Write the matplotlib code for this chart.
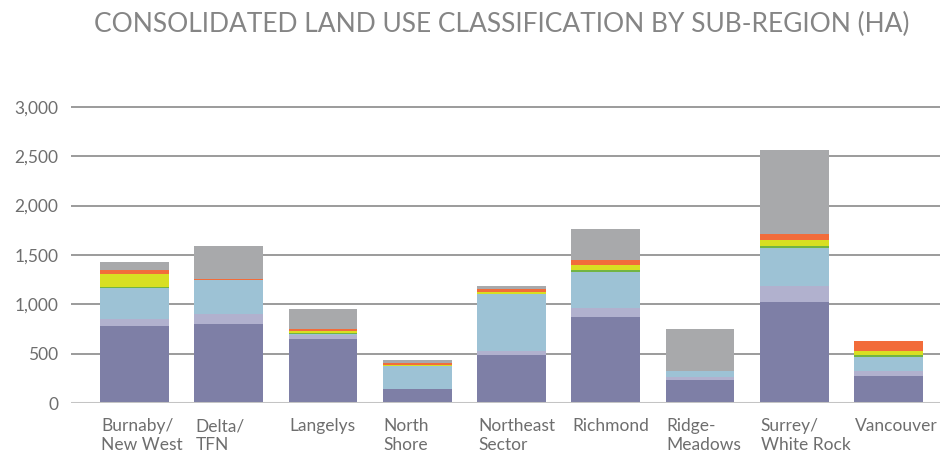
import matplotlib
matplotlib.use("Agg")
import matplotlib.pyplot as plt
import numpy as np

regions = ["Burnaby/\nNew West", "Delta/\nTFN", "Langelys", "North\nShore", "Northeast\nSector",
           "Richmond", "Ridge-\nMeadows", "Surrey/\nWhite Rock", "Vancouver"]
purple = [782, 802, 650, 145, 489, 873, 236, 1024, 277]
lavender = [70, 101, 43, 0, 40, 91, 30, 162, 50]
blue = [314, 342, 10, 233, 579, 364, 61, 384, 142]
green = [10, 0, 11, 0, 0, 20, 0, 21, 20]
yellow = [131, 0, 17, 10, 20, 51, 0, 60, 41]
orange = [44, 15, 20, 20, 27, 50, 0, 61, 100]
gray = [77, 330, 202, 30, 31, 313, 425, 849, 0]
yticks = [0, 500, 1000, 1500, 2000, 2500, 3000]
ytick_labels = ["0", "500", "1,000", "1,500", "2,000", "2,500", "3,000"]
title = "CONSOLIDATED LAND USE CLASSIFICATION BY SUB-REGION (HA)"

series = [purple, lavender, blue, green, yellow, orange, gray]
colors = ["#7e7fa6", "#b1b1ce", "#9dc2d5", "#72b443", "#d8df22", "#f26c3a", "#a8a9ab"]

plt.rcParams['font.family'] = ['Lato', 'DejaVu Sans']

fig = plt.figure(figsize=(9.4, 4.51), dpi=100)
ax = fig.add_axes([71/940, 0.1058, 869/940, 0.6796])

x = np.arange(len(regions))
bottom = np.zeros(len(regions))
for vals, c in zip(series, colors):
    ax.bar(x, vals, bottom=bottom, width=0.73, color=c, zorder=3, linewidth=0)
    bottom += np.array(vals)

for t in yticks[1:]:
    ax.axhline(t, color="#8a8a8a", lw=1.2, zorder=1)
ax.axhline(0, color="#c4c4c4", lw=2.2, zorder=4)

ax.set_xlim(-0.674, 8.547)
ax.set_ylim(0, 3100)
ax.set_yticks(yticks)
ax.set_yticklabels(ytick_labels, fontsize=12.5, color="#6e6e6e")
ax.tick_params(axis='y', length=0, pad=9)
ax.set_xticks([])
for s in ax.spines.values():
    s.set_visible(False)

for i, lab in enumerate(regions):
    ax.text(i - 0.365 + 0.01, -150, lab, ha='left', va='top', fontsize=12.5,
            color="#6e6e6e", linespacing=1.2)

fig.text(502/940, 1 - 24/451, title, ha='center', va='center', fontsize=19,
         color="#858585", fontweight='normal')

fig.savefig("out.png", dpi=100)
